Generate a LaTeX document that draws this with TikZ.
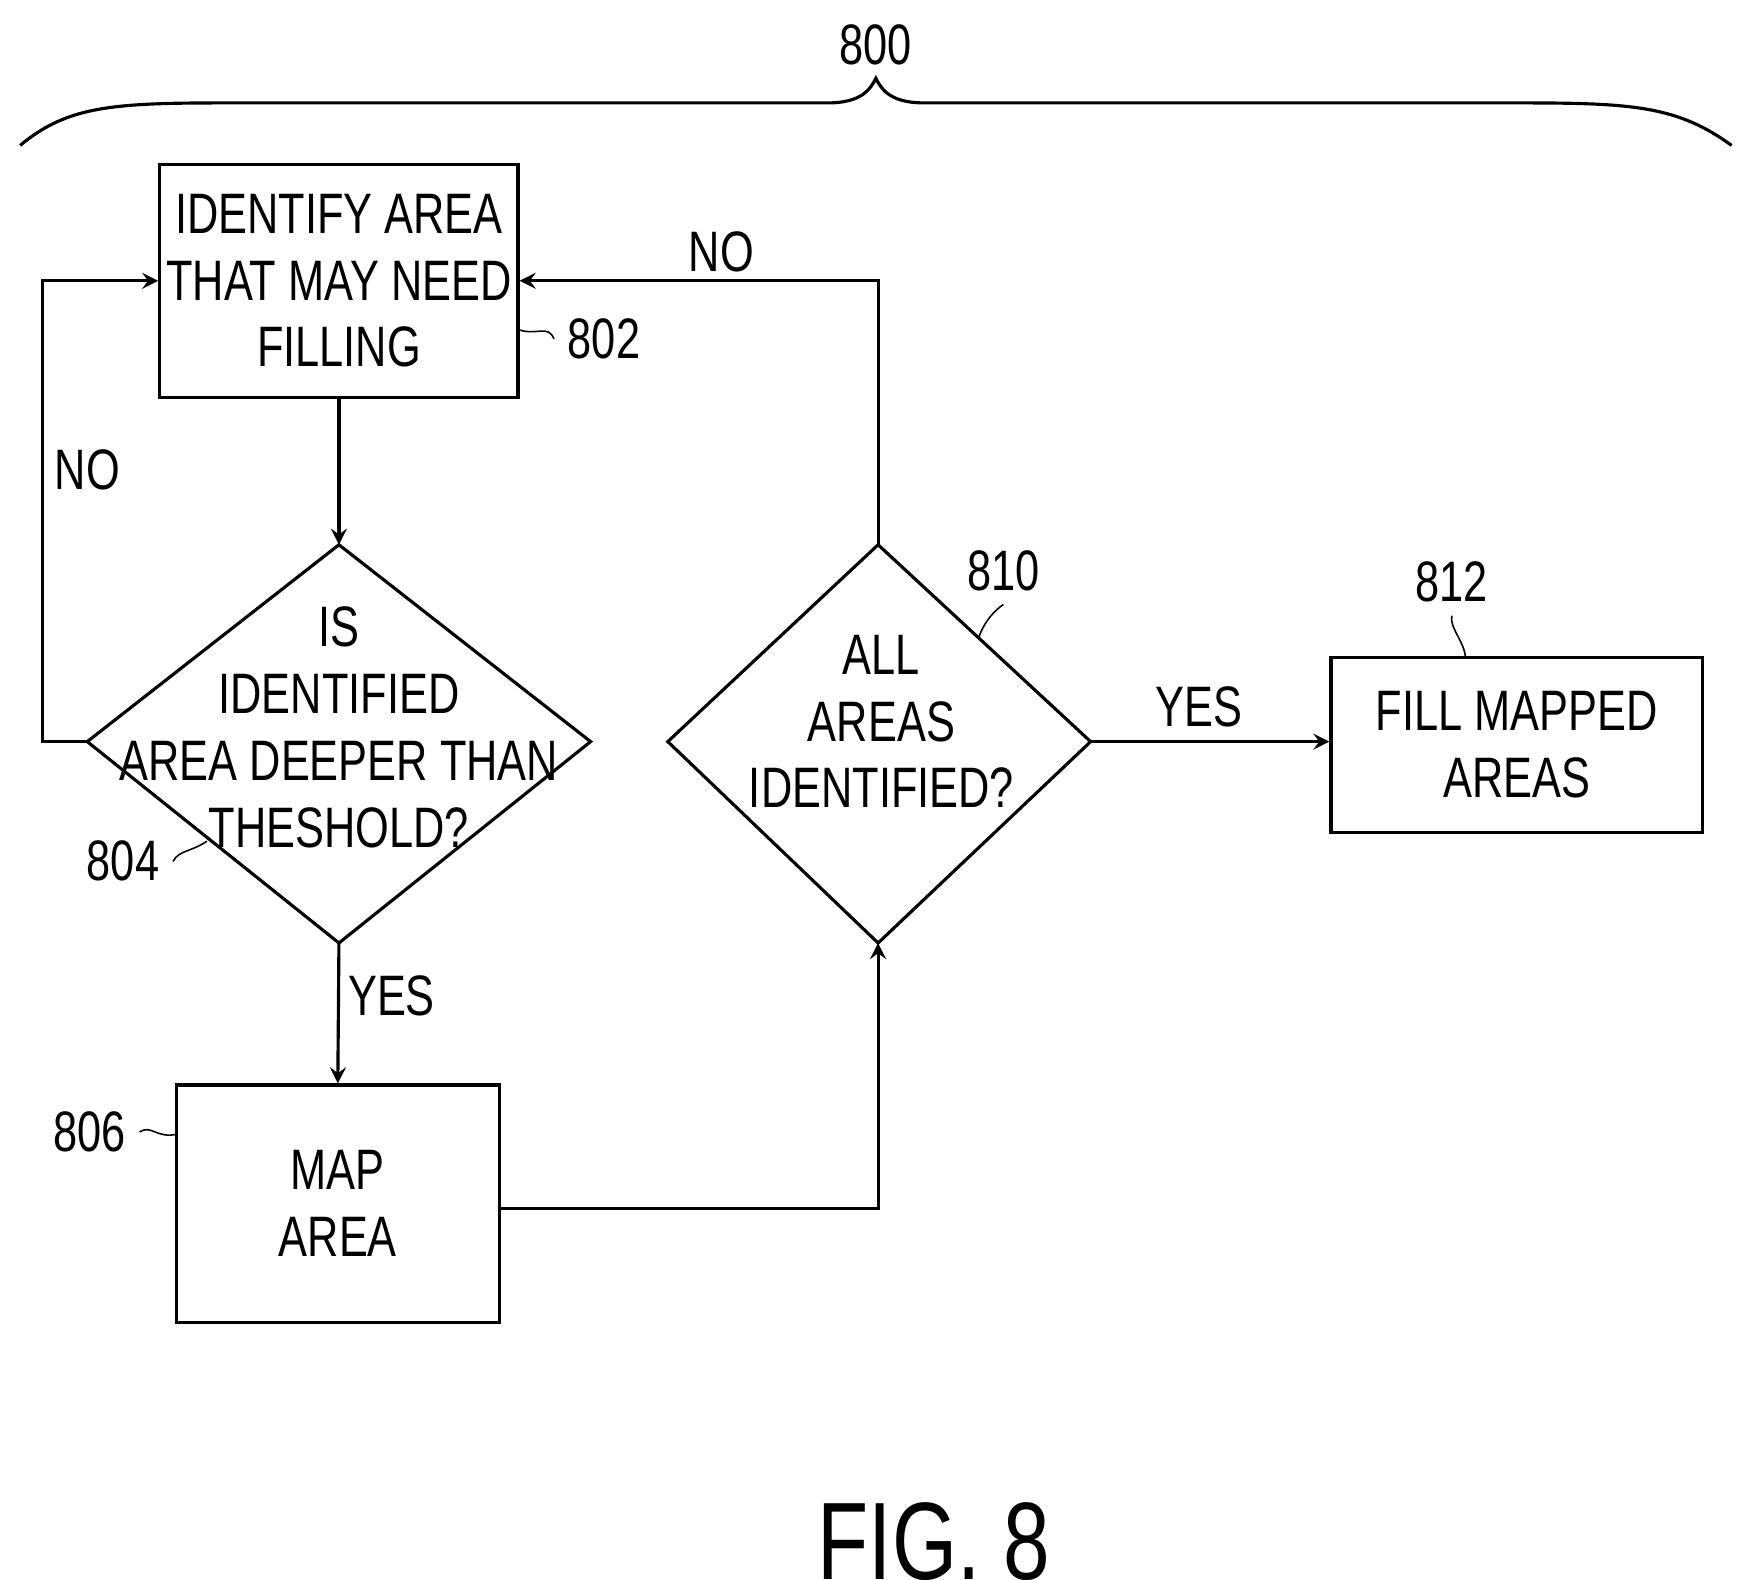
\documentclass[tikz,border=0pt]{standalone}
\usepackage{fontspec}
\setmainfont{Liberation Sans}[FakeStretch=0.76]
\usetikzlibrary{shapes.geometric}
\tikzset{
  stage/.style={draw, thick, align=center, inner sep=0pt, font=\fontsize{14.5}{17}\selectfont},
  said/.style={align=center, inner sep=0pt, font=\fontsize{14.5}{17}\selectfont},
  lbl/.style={font=\fontsize{14.5}{17}\selectfont},
  flow/.style={thick, -stealth}
}
\begin{document}
\begin{tikzpicture}[x=0.01cm, y=-0.01cm]
	\useasboundingbox (0,0) rectangle (1560,1412);
	% klammer
	\draw [thick] (18,130) .. controls (60,95) and (100,92) .. (200,92) -- (740,92) .. controls (770,92) and (778,80) .. (783,70) .. controls (788,80) and (796,92) .. (826,92) -- (1360,92) .. controls (1460,92) and (1500,95) .. (1548,130);
	\node [lbl] (n800) at (783,40) {800};
	% schritte
	\node [stage, minimum width=3.2cm, minimum height=2.08cm] (identify) at (303,251) {IDENTIFY AREA\\THAT MAY NEED\\FILLING};
	\coordinate (deeperN) at (303,487);
	\coordinate (deeperS) at (303,843);
	\coordinate (deeperW) at (78,663);
	\coordinate (deeperE) at (528,663);
	\draw [thick] (deeperN) -- (deeperE) -- (deeperS) -- (deeperW) -- cycle;
	\node [said] (deeper) at (303,650) {IS\\IDENTIFIED\\AREA DEEPER THAN\\THESHOLD?};
	\node [stage, minimum width=2.89cm, minimum height=2.12cm] (map) at (302,1076) {MAP\\AREA};
	\coordinate (allN) at (785,487);
	\coordinate (allS) at (785,843);
	\coordinate (allW) at (597,663);
	\coordinate (allE) at (975,663);
	\draw [thick] (allN) -- (allE) -- (allS) -- (allW) -- cycle;
	\node [said] (all) at (788,645) {ALL\\AREAS\\IDENTIFIED?};
	\node [stage, minimum width=3.32cm, minimum height=1.57cm] (fill) at (1356,666) {FILL MAPPED\\AREAS};
	% bezugszeichen
	\node [lbl] (n802) at (540,303) {802};
	\node [lbl] (n804) at (110,770) {804};
	\node [lbl] (n806) at (80,1012) {806};
	\node [lbl] (n810) at (897,510) {810};
	\node [lbl] (n812) at (1298,520) {812};
	\draw (n802.west) .. controls (490,290) and (480,300) .. (identify.east |- 0,295);
	\draw (n804.east) .. controls (160,760) and (170,762) .. (185,752);
	\draw (n806.east) .. controls (135,1005) and (140,1018) .. (158,1014);
	\draw (n810.south) .. controls (890,545) and (880,555) .. (875,570);
	\draw (n812.south) .. controls (1295,560) and (1310,575) .. (1310,588);
	% verbindungen
	\coordinate (cNo1) at (38,663);
	\coordinate (cNo2) at (785,251);
	\coordinate (cMap) at (785,1080);
	\draw [flow] (identify) -- (deeperN);
	\draw [flow] (deeperW) -- (cNo1) -- (38,251) -- (identify.west);
	\node [lbl] (no1) at (78,420) {NO};
	\draw [flow] (deeperS) -- (map.north);
	\node [lbl] (yes1) at (350,890) {YES};
	\draw [flow] (map.east |- cMap) -- (cMap) -- (allS);
	\draw [flow] (allN) -- (cNo2) -- (identify.east |- cNo2);
	\node [lbl] (no2) at (645,225) {NO};
	\draw [flow] (allE) -- (fill.west |- allE);
	\node [lbl] (yes2) at (1072,632) {YES};
	\node [font=\fontsize{28}{32}\selectfont] (fig) at (835,1378) {FIG. 8};
\end{tikzpicture}
\end{document}
